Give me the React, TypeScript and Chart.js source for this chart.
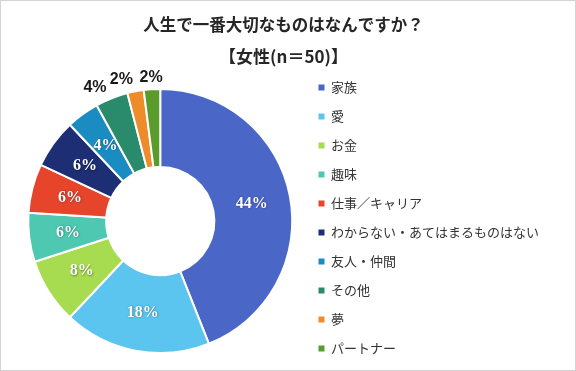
import { useEffect, useRef } from 'react';
import { Chart, registerables } from 'chart.js';

Chart.register(...registerables);

const TITLE = '人生で一番大切なものはなんですか？';
const SUBTITLE = '【女性(n＝50)】';
const categories = [
  '家族',
  '愛',
  'お金',
  '趣味',
  '仕事／キャリア',
  'わからない・あてはまるものはない',
  '友人・仲間',
  'その他',
  '夢',
  'パートナー',
];
const values = [44, 18, 8, 6, 6, 6, 4, 4, 2, 2];
const colors = [
  '#4a67c8',
  '#5bc5ef',
  '#a8dc50',
  '#4fc8b2',
  '#e6442b',
  '#1d2e74',
  '#1b8cc2',
  '#2a8a6c',
  '#ee8c2c',
  '#5a9c2c',
];
const labelOutside = [false, false, false, false, false, false, false, true, true, true];

const sliceLabels = {
  id: 'sliceLabels',
  afterDatasetsDraw(chart: any) {
    const ctx = chart.ctx;
    const meta = chart.getDatasetMeta(0);
    const ds = chart.data.datasets[0];
    meta.data.forEach((arc: any, i: number) => {
      const p = arc.getProps(['x', 'y', 'startAngle', 'endAngle', 'innerRadius', 'outerRadius'], true);
      const mid = (p.startAngle + p.endAngle) / 2;
      const txt = ds.data[i] + '%';
      ctx.save();
      ctx.textBaseline = 'middle';
      if (labelOutside[i]) {
        const r = p.outerRadius + 14;
        const x = p.x + r * Math.cos(mid);
        const y = p.y + r * Math.sin(mid) + 2;
        ctx.font = 'bold 16px "Liberation Sans", Arial, sans-serif';
        ctx.fillStyle = '#1a1a1a';
        ctx.textAlign = Math.cos(mid) < -0.1 ? 'right' : 'center';
        ctx.fillText(txt, x, y);
      } else {
        const r = (p.innerRadius + p.outerRadius) / 2;
        const x = p.x + r * Math.cos(mid);
        const y = p.y + r * Math.sin(mid);
        ctx.font = 'bold 16px "Liberation Serif", "Times New Roman", serif';
        ctx.fillStyle = '#ffffff';
        ctx.textAlign = 'center';
        ctx.shadowColor = 'rgba(0,0,0,0.45)';
        ctx.shadowBlur = 2;
        ctx.shadowOffsetX = 0.5;
        ctx.shadowOffsetY = 0.5;
        ctx.fillText(txt, x, y);
      }
      ctx.restore();
    });
  },
};

export default function App() {
  const ref = useRef<HTMLCanvasElement | null>(null);

  useEffect(() => {
    document.body.style.margin = '0';
    const canvas = ref.current;
    if (!canvas) return;
    const baseGen = (Chart as any).overrides.doughnut.plugins.legend.labels.generateLabels;
    const chart = new Chart(canvas, {
      type: 'doughnut',
      data: {
        labels: categories,
        datasets: [
          {
            data: values,
            backgroundColor: colors,
            borderColor: '#ffffff',
            borderWidth: 2,
          },
        ],
      },
      options: {
        responsive: false,
        animation: false,
        radius: 132,
        cutout: '41%',
        layout: { padding: { left: 18, right: 27, top: 0, bottom: 0 } },
        plugins: {
          tooltip: { enabled: false },
          title: {
            display: true,
            text: TITLE,
            color: '#262626',
            font: { family: '"Noto Sans CJK JP", sans-serif', size: 16.5, weight: 'bold', lineHeight: 1.2 },
            padding: { top: 15.1, bottom: 11.9 },
          },
          subtitle: {
            display: true,
            text: SUBTITLE,
            color: '#262626',
            font: { family: '"Noto Sans CJK JP", sans-serif', size: 17, weight: 'bold', lineHeight: 1.2 },
            padding: { top: 0, bottom: 3.8 },
          },
          legend: {
            display: true,
            position: 'right',
            fullSize: true,
            align: 'end',
            labels: {
              boxWidth: 6,
              boxHeight: 6,
              padding: 16,
              color: '#333333',
              font: { family: '"Noto Sans CJK JP", sans-serif', size: 13 },
              generateLabels: (c: any) =>
                baseGen(c).map((l: any) => ({ ...l, lineWidth: 0, strokeStyle: 'transparent' })),
            },
          },
        },
      } as any,
      plugins: [sliceLabels],
    });
    return () => chart.destroy();
  }, []);

  return (
    <div
      style={{
        position: 'fixed',
        left: 0,
        top: 0,
        width: 576,
        height: 371,
        background: '#ffffff',
        boxShadow: 'inset 0 0 0 1px #d4d4d4',
      }}
    >
      <canvas ref={ref} width={576} height={371} style={{ display: 'block' }} />
    </div>
  );
}
